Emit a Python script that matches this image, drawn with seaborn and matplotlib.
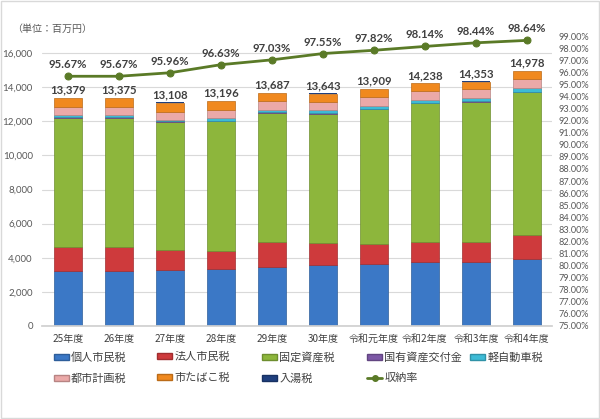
import numpy as np
import matplotlib
matplotlib.use("Agg")
import matplotlib.pyplot as plt
from matplotlib.patches import Patch, Rectangle
from matplotlib.lines import Line2D
from matplotlib.ticker import FuncFormatter, MultipleLocator
import seaborn as sns

years = ["25年度", "26年度", "27年度", "28年度", "29年度", "30年度",
         "令和元年度", "令和2年度", "令和3年度", "令和4年度"]
kojin = [3250, 3230, 3300, 3350, 3450, 3550, 3650, 3750, 3750, 3900]
hojin = [1400, 1420, 1180, 1050, 1450, 1300, 1150, 1200, 1200, 1450]
kotei = [7550, 7550, 7470, 7600, 7600, 7600, 7900, 8100, 8200, 8350]
kokuyu = [40, 40, 40, 40, 40, 40, 40, 40, 40, 40]
keijidosha = [110, 110, 115, 130, 150, 160, 170, 170, 175, 185]
toshikeikaku = [480, 480, 470, 480, 490, 500, 510, 490, 520, 570]
tabako = [530, 525, 513, 526, 487, 473, 469, 468, 448, 463]
nyuto = [19, 20, 20, 20, 20, 20, 20, 20, 20, 20]
totals = [13379, 13375, 13108, 13196, 13687, 13643, 13909, 14238, 14353, 14978]
rates = [95.67, 95.67, 95.96, 96.63, 97.03, 97.55, 97.82, 98.14, 98.44, 98.64]

series_names = ["個人市民税", "法人市民税", "固定資産税", "国有資産交付金",
                "軽自動車税", "都市計画税", "市たばこ税", "入湯税"]
series_vals = [kojin, hojin, kotei, kokuyu, keijidosha, toshikeikaku, tabako, nyuto]
series_colors = ["#3B78C6", "#CE3A3C", "#8DB63C", "#7D58A6",
                 "#3DBBD6", "#EBA9A8", "#F0891F", "#1F3F7E"]
line_name = "収納率"
line_color = "#5A7A27"

sns.set_theme(style="white")
plt.rcParams["font.family"] = ["Noto Sans CJK JP", "DejaVu Sans"]
NUM = ["Lato", "DejaVu Sans"]

fig = plt.figure(figsize=(6.0, 4.19), dpi=100)
ax = fig.add_axes([0.0708, 0.222, 0.850, 0.692])

def darker(c, f=0.78):
    r, g, b = matplotlib.colors.to_rgb(c)
    return (r * f, g * f, b * f)

cum = np.zeros(len(years))
for name, vals, col in zip(series_names, series_vals, series_colors):
    lw = 0.0 if name == "入湯税" else 0.5
    sns.barplot(x=years, y=vals, bottom=cum, color=col, width=0.55,
                edgecolor=darker(col), linewidth=lw, ax=ax, label=name,
                saturation=1)
    cum = cum + np.array(vals)

ax.set_xlim(-0.5, len(years) - 0.5)
ax.set_ylim(0, 17000)
ax.yaxis.set_major_locator(MultipleLocator(2000))
ax.yaxis.set_major_formatter(FuncFormatter(lambda v, p: f"{int(v):,}"))
ax.grid(axis="y", color="#D9D9D9", linewidth=0.8)
ax.set_axisbelow(True)
for s in ["top", "right", "left"]:
    ax.spines[s].set_visible(False)
ax.spines["bottom"].set_color("#D0D0D0")
ax.tick_params(axis="y", length=0, labelsize=7, labelcolor="#595959", pad=7)
ax.tick_params(axis="x", length=0, labelsize=7.2, labelcolor="#404040", pad=6)
for lb in ax.get_yticklabels():
    lb.set_family(NUM)
ax.set_xlabel("")
ax.set_ylabel("")
if ax.get_legend():
    ax.get_legend().remove()

for i, t in enumerate(totals):
    ax.text(i, t + 130, f"{t:,}", ha="center", va="bottom", fontsize=8.2,
            fontweight="bold", color="#404040", family=NUM)

ax2 = ax.twinx()
sns.lineplot(x=np.arange(len(years)), y=rates, ax=ax2, color=line_color,
             linewidth=2, marker="o", markersize=5, markeredgecolor=line_color,
             markerfacecolor=line_color)
ax2.set_ylim(75, 99)
ax2.yaxis.set_major_locator(MultipleLocator(1))
ax2.yaxis.set_major_formatter(FuncFormatter(lambda v, p: f"{v:.2f}%"))
ax2.tick_params(axis="y", length=0, labelsize=6.6, labelcolor="#595959", pad=4)
for lb in ax2.get_yticklabels():
    lb.set_family(NUM)
for s in ["top", "right", "left", "bottom"]:
    ax2.spines[s].set_visible(False)
ax2.grid(False)
ax2.set_ylabel("")
for i, r in enumerate(rates):
    ax2.text(i, r + 0.5, f"{r:.2f}%", ha="center", va="bottom", fontsize=8.2,
             fontweight="bold", color="#404040", family=NUM)

fig.text(0.02, 0.930, "（単位：百万円）", fontsize=7.2, color="#595959",
         ha="left", va="center")

handles = [Patch(facecolor=c, edgecolor=darker(c)) for c in series_colors]
handles.append(Line2D([0], [0], color=line_color, linewidth=2, marker="o",
                      markersize=4))
labels = series_names + [line_name]
columns = [[0, 5], [1, 6], [2, 7], [3, 8], [4]]
col_x = [54, 157, 262, 367, 470]
for xs, idx in zip(col_x, columns):
    fig.legend([handles[i] for i in idx], [labels[i] for i in idx],
               loc="upper left", bbox_to_anchor=(xs / 600, 1 - 352 / 419),
               ncol=1, frameon=False, fontsize=8, handlelength=1.35,
               handleheight=0.45, handletextpad=0.2, borderpad=0,
               borderaxespad=0, labelspacing=0.93, labelcolor="#404040")

fig.patches.append(Rectangle((0.002, 0.002), 0.996, 0.996, transform=fig.transFigure,
                             fill=False, edgecolor="#D9D9D9", linewidth=1))

fig.savefig("out.png", dpi=100, facecolor="white")
